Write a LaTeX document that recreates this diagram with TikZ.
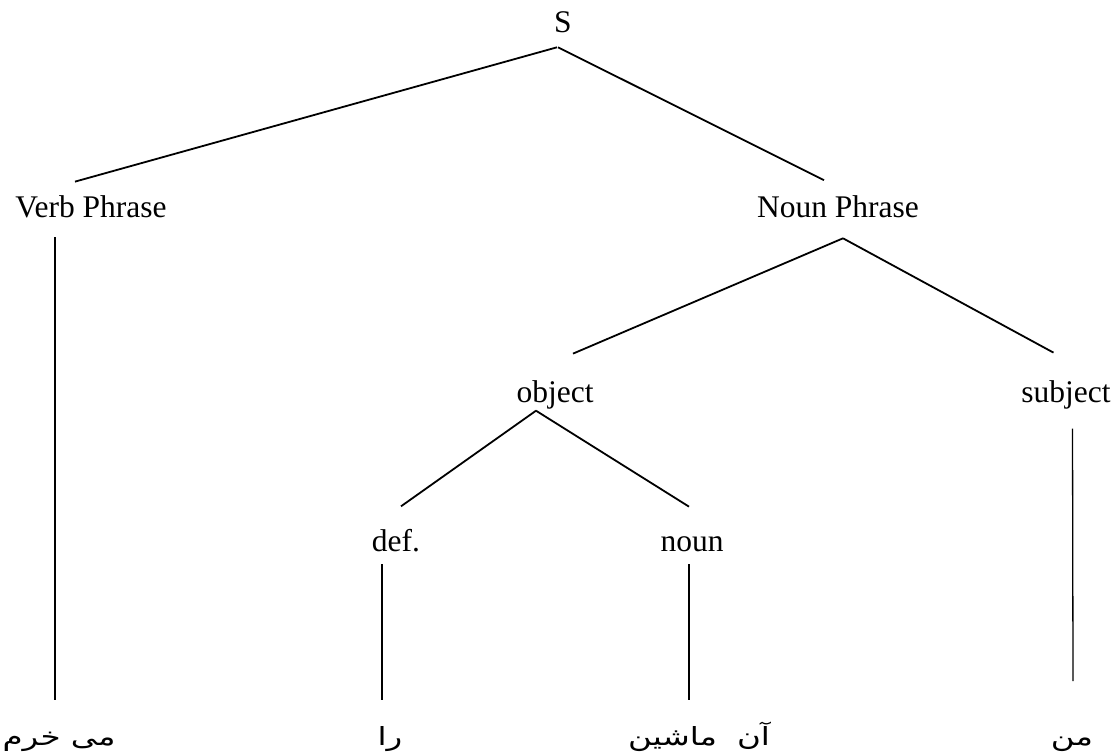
\documentclass[tikz,border=0pt]{standalone}
\usepackage{fontspec}
\setmainfont{Liberation Serif}
\newfontfamily\farsifont[Script=Arabic, FakeStretch=1.3]{DejaVu Sans}
\TeXXeTstate=1
\usetikzlibrary{calc}
\tikzset{
	cat/.style={inner sep=0pt, outer sep=0pt, anchor=base, font=\fontsize{31.5}{36}\selectfont},
	leaf/.style={inner sep=0pt, outer sep=0pt, anchor=base, font=\farsifont\fontsize{25}{30}\selectfont},
	branch/.style={line width=1.8pt},
	stem/.style={line width=1.3pt}
}

\begin{document}
\begin{tikzpicture}[x=1pt, y=1pt]
		%%%%% START %%%%%
		\useasboundingbox (0, 0) rectangle (1115, 755);
		
		\node[cat] (s) at (563, 722) {S};
		\node[cat] (vp) at (91, 537) {Verb Phrase};
		\node[cat] (np) at (838, 537) {Noun Phrase};
		\node[cat] (obj) at (555, 352) {object};
		\node[cat] (subj) at (1066, 352) {subject};
		\node[cat] (def) at (396, 204) {def.};
		\node[cat] (noun) at (692, 204) {noun};
		
		\node[leaf] (buy) at (59, 10) {\beginR می خرم\endR};
		\node[leaf] (ra) at (390, 10) {\beginR را\endR};
		\node[leaf] (car) at (699, 10) {\beginR آن\hspace{0.8em}ماشین\endR};
		\node[leaf] (me) at (1072, 10) {\beginR من\endR};
		
		\draw[branch] ([xshift=-6pt, yshift=-14pt]s.south) -- ([xshift=-16pt, yshift=14.5pt]vp.north);
		\draw[branch] ([xshift=-5pt, yshift=-14pt]s.south) -- ([xshift=-14pt, yshift=16pt]np.north);
		
		\draw[branch] ([xshift=5pt, yshift=-20pt]np.south) -- ([xshift=18pt, yshift=27.5pt]obj.north);
		\draw[branch] ([xshift=5pt, yshift=-20pt]np.south) -- ([xshift=-12.5pt, yshift=28.5pt]subj.north);
		
		\draw[branch] ([xshift=-19pt, yshift=-1pt]obj.south) -- ([xshift=5pt, yshift=22.5pt]def.north);
		\draw[branch] ([xshift=-19pt, yshift=-1pt]obj.south) -- ([xshift=-3pt, yshift=29.5pt]noun.north);
		
		\draw[stem] ([xshift=-36pt, yshift=-19pt]vp.south) -- ([xshift=-4pt, yshift=45pt]buy.base);
		\draw[stem] ([xshift=-14pt, yshift=-13pt]def.south) -- ([xshift=-8pt, yshift=45pt]ra.base);
		\draw[stem] ([xshift=-3pt, yshift=-13pt]noun.south) -- ([xshift=-10pt, yshift=45pt]car.base);
		\draw[stem] ([xshift=6.5pt, yshift=-19pt]subj.south) -- ([xshift=1pt, yshift=64pt]me.base);
		
		%%%%% END %%%%%
\end{tikzpicture}
\end{document}
